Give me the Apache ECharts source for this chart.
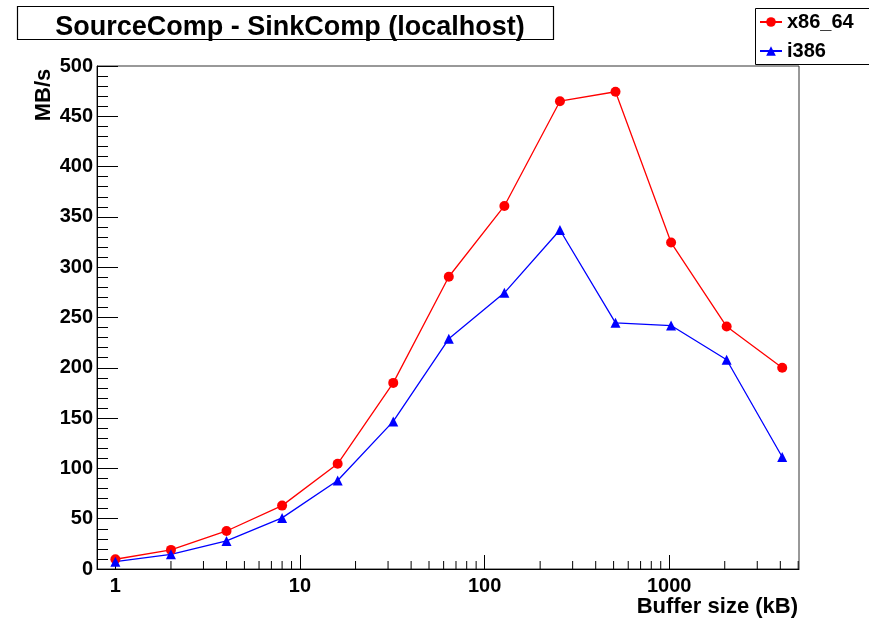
<!DOCTYPE html>
<html>
<head>
<meta charset="utf-8">
<script src="https://cdn.jsdelivr.net/npm/echarts@6/dist/echarts.min.js"></script>
<style>
  html, body { margin: 0; padding: 0; background: #fff; }
  #chart { width: 869px; height: 618px; }
</style>
</head>
<body>
<div id="chart"></div>
<script>
// buffer sizes in kB
const bufferSizes = [1, 2, 4, 8, 16, 32, 64, 128, 256, 512, 1024, 2048, 4096];
// MB/s
const x86_64 = [9.7, 19, 37.8, 63, 104.6, 185, 290.5, 360.9, 465, 474.4, 324.5, 241, 200];
const i386 = [7.3, 14.6, 27.9, 50.8, 88, 146.7, 228.8, 274.5, 337, 244.7, 242, 208, 111.3];
const yTicks = [0, 50, 100, 150, 200, 250, 300, 350, 400, 450, 500];

// minor ticks of the log axis (2..9 in each decade)
const xMinorTicks = [];
[1, 10, 100, 1000].forEach(function (d) {
    for (let k = 2; k <= 9; k++) {
        if (d * k <= 5000) xMinorTicks.push(d * k);
    }
});

const FONT = '"Liberation Sans", Arial, Helvetica, sans-serif';

const chart = echarts.init(document.getElementById('chart'), null, { renderer: 'canvas' });

const option = {
    backgroundColor: '#fff',
    animation: false,
    title: {
        text: 'SourceComp - SinkComp (localhost)',
        left: 285,
        top: 9,
        textAlign: 'center',
        textStyle: { fontFamily: FONT, fontWeight: 'bold', fontSize: 27, color: '#000' }
    },
    grid: {
        left: 97, right: 70, top: 66, bottom: 49,
        show: true, borderColor: '#333', borderWidth: 1, backgroundColor: 'transparent'
    },
    legend: {
        orient: 'vertical',
        left: 759,
        top: 12,
        padding: 0,
        itemGap: 9,
        itemWidth: 22,
        itemHeight: 12,
        data: ['x86_64', 'i386'],
        textStyle: { fontFamily: FONT, fontWeight: 'bold', fontSize: 20, color: '#000', lineHeight: 20 },
        z: 20
    },
    xAxis: {
        type: 'log',
        logBase: 10,
        min: 0.795,
        max: 5050,
        axisLine: { show: true, onZero: false, lineStyle: { color: '#000', width: 1 } },
        axisTick: { show: true, inside: true, length: 14, lineStyle: { color: '#000' } },
        splitLine: { show: false },
        axisLabel: {
            showMinLabel: false, showMaxLabel: false,
            margin: 7,
            fontFamily: FONT, fontWeight: 'bold', fontSize: 20, color: '#000',
            formatter: function (v) { return String(Math.round(v)); }
        }
    },
    yAxis: {
        type: 'value',
        min: yTicks[0],
        max: yTicks[yTicks.length - 1],
        interval: 50,
        axisLine: { show: true, lineStyle: { color: '#000', width: 1 } },
        axisTick: { show: true, inside: true, length: 21, lineStyle: { color: '#000' } },
        minorTick: { show: true, splitNumber: 5, length: 11, lineStyle: { color: '#000' } },
        splitLine: { show: false },
        axisLabel: {
            margin: 4,
            fontFamily: FONT, fontWeight: 'bold', fontSize: 20, color: '#000'
        }
    },
    graphic: [
        {
            type: 'rect',
            shape: { x: 17.5, y: 6.5, width: 536, height: 33 },
            style: { fill: 'transparent', stroke: '#000', lineWidth: 1.2 },
            z: 10
        },
        {
            type: 'rect',
            shape: { x: 755.5, y: 8.5, width: 130, height: 56 },
            style: { fill: '#fff', stroke: '#000', lineWidth: 1 },
            z: 10
        },
        {
            type: 'text',
            x: 44,
            y: 95,
            rotation: Math.PI / 2,
            style: {
                text: 'MB/s', fontFamily: FONT, fontWeight: 'bold', fontSize: 22, fill: '#000',
                align: 'center', verticalAlign: 'middle'
            },
            z: 10
        },
        {
            type: 'text',
            x: 798,
            y: 607,
            style: {
                text: 'Buffer size (kB)', fontFamily: FONT, fontWeight: 'bold', fontSize: 22, fill: '#000',
                align: 'right', verticalAlign: 'middle'
            },
            z: 10
        }
    ],
    series: [
        {
            type: 'custom',
            name: 'minorTicks',
            silent: true,
            clip: true,
            data: xMinorTicks.map(function (v) { return [v, 0]; }),
            encode: { x: 0, y: 1 },
            renderItem: function (params, api) {
                const p = api.coord([api.value(0), 0]);
                return {
                    type: 'line',
                    shape: { x1: p[0], y1: p[1], x2: p[0], y2: p[1] - 8 },
                    style: { stroke: '#000', lineWidth: 1 }
                };
            },
            z: 1
        },
        {
            name: 'x86_64',
            type: 'line',
            data: bufferSizes.map(function (x, i) { return [x, x86_64[i]]; }),
            symbol: 'circle',
            symbolSize: 10,
            color: '#ff0000',
            lineStyle: { color: '#ff0000', width: 1.3 },
            itemStyle: { color: '#ff0000' },
            z: 3
        },
        {
            name: 'i386',
            type: 'line',
            data: bufferSizes.map(function (x, i) { return [x, i386[i]]; }),
            symbol: 'triangle',
            symbolSize: 10,
            color: '#0000ff',
            lineStyle: { color: '#0000ff', width: 1.3 },
            itemStyle: { color: '#0000ff' },
            z: 3
        }
    ]
};

chart.setOption(option);
</script>
</body>
</html>
